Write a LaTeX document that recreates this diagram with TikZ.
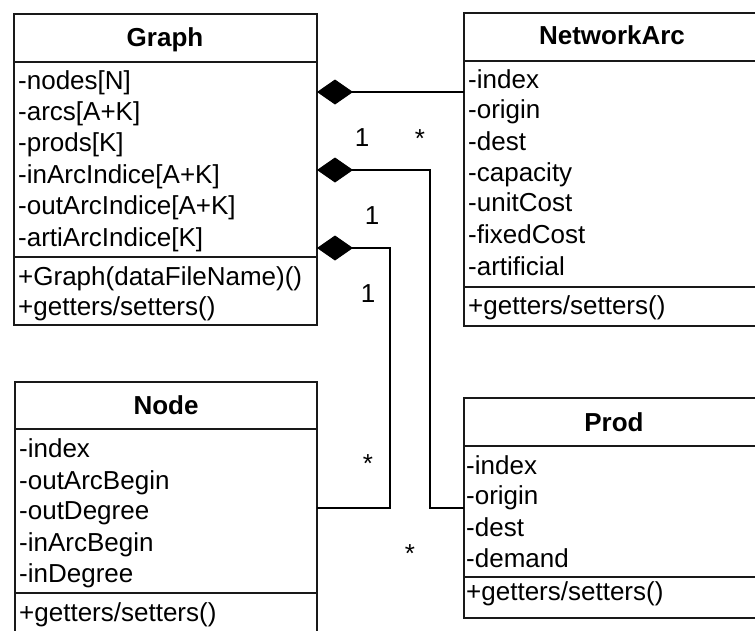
\documentclass[tikz,border=0pt]{standalone}
\usepackage{fontspec}
\setmainfont{Liberation Sans}
\usetikzlibrary{arrows.meta}
\begin{document}
\begin{tikzpicture}[x=1pt,y=-1pt,
 box/.style={draw=black!90, line width=1.7pt, inner sep=0pt, outer sep=0pt, anchor=north west},
 sepline/.style={draw=black!90, line width=1.7pt},
 attr/.style={anchor=base west, inner sep=0pt, font=\fontsize{26}{30}\selectfont},
 title/.style={anchor=base, inner sep=0pt, font=\fontsize{26}{30}\selectfont\bfseries},
 lab/.style={anchor=base, inner sep=0pt, font=\fontsize{26}{30}\selectfont},
 comp/.style={draw=black, line width=1.1pt, {Diamond[length=36pt,width=25pt]}-}
]
\useasboundingbox (0,0) rectangle (755,630);
\clip (0,0) rectangle (755,630);

% Graph
\node[box, minimum width=303pt, minimum height=311pt] (graph) at (14,14) {};
\draw[sepline] (graph.west |- 0,62) -- (graph.east |- 0,62);
\draw[sepline] (graph.west |- 0,257) -- (graph.east |- 0,257);
\node[title] (gt) at (165,46) {Graph};
\node[attr] (g1) at (18,89) {-nodes[N]};
\node[attr] (g2) at (18,120.5) {-arcs[A+K]};
\node[attr] (g3) at (18,151.5) {-prods[K]};
\node[attr] (g4) at (18,183) {-inArcIndice[A+K]};
\node[attr] (g5) at (18,214) {-outArcIndice[A+K]};
\node[attr] (g6) at (18,246) {-artiArcIndice[K]};
\node[attr] (g7) at (18,285) {+Graph(dataFileName)()};
\node[attr] (g8) at (18,315) {+getters/setters()};

% NetworkArc
\node[box, minimum width=320pt, minimum height=313pt] (arc) at (464,13) {};
\draw[sepline] (arc.west |- 0,61) -- (arc.east |- 0,61);
\draw[sepline] (arc.west |- 0,287) -- (arc.east |- 0,287);
\node[title] (at) at (612,44) {NetworkArc};
\node[attr] (a1) at (468,88) {-index};
\node[attr] (a2) at (468,118.5) {-origin};
\node[attr] (a3) at (468,150) {-dest};
\node[attr] (a4) at (468,181) {-capacity};
\node[attr] (a5) at (468,211.5) {-unitCost};
\node[attr] (a6) at (468,243) {-fixedCost};
\node[attr] (a7) at (468,275) {-artificial};
\node[attr] (a8) at (468,314) {+getters/setters()};

% Node
\node[box, minimum width=302pt, minimum height=290pt] (node) at (15,382) {};
\draw[sepline] (node.west |- 0,429) -- (node.east |- 0,429);
\draw[sepline] (node.west |- 0,593) -- (node.east |- 0,593);
\node[title] (nt) at (166,414) {Node};
\node[attr] (n1) at (19,457) {-index};
\node[attr] (n2) at (19,489) {-outArcBegin};
\node[attr] (n3) at (19,519) {-outDegree};
\node[attr] (n4) at (19,551) {-inArcBegin};
\node[attr] (n5) at (19,582) {-inDegree};
\node[attr] (n6) at (19,621) {+getters/setters()};

% Prod
\node[box, minimum width=320pt, minimum height=220pt] (prod) at (464,398) {};
\draw[sepline] (prod.west |- 0,446) -- (prod.east |- 0,446);
\draw[sepline] (prod.west |- 0,577) -- (prod.east |- 0,577);
\node[title] (pt) at (614,431) {Prod};
\node[attr] (p1) at (466,474) {-index};
\node[attr] (p2) at (466,504) {-origin};
\node[attr] (p3) at (466,536) {-dest};
\node[attr] (p4) at (466,567) {-demand};
\node[attr] (p5) at (466,600) {+getters/setters()};

% connectors
\coordinate (c2) at (430,170);
\coordinate (c2b) at (430,508);
\coordinate (c3) at (390,248);
\coordinate (c3b) at (390,508);
\draw[comp] (graph.east |- 0,92) -- (arc.west |- 0,92);
\draw[comp] (graph.east |- c2) -- (c2) -- (c2b) -- (prod.west |- c2b);
\draw[comp] (graph.east |- c3) -- (c3) -- (c3b) -- (node.east |- c3b);

% multiplicities
\node[lab] (m1) at (362,146) {1};
\node[lab] (m2) at (420,147) {*};
\node[lab] (m3) at (372,224) {1};
\node[lab] (m4) at (368,302) {1};
\node[lab] (m5) at (368,472) {*};
\node[lab] (m6) at (410,562) {*};
\end{tikzpicture}
\end{document}
